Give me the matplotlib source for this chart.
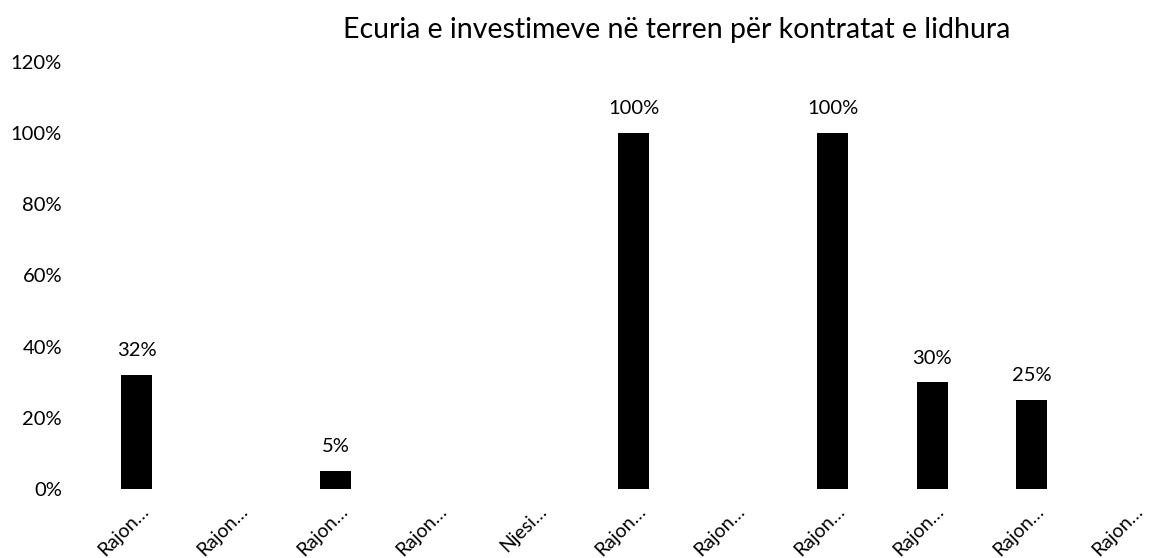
import matplotlib
matplotlib.use("Agg")
import matplotlib.pyplot as plt
from matplotlib.ticker import FuncFormatter
import matplotlib.transforms as mtransforms

categories = ["Rajon…", "Rajon…", "Rajon…", "Rajon…", "Njesi…", "Rajon…",
              "Rajon…", "Rajon…", "Rajon…", "Rajon…", "Rajon…"]
values = [0.32, 0.0, 0.05, 0.0, 0.0, 1.00, 0.0, 1.00, 0.30, 0.25, 0.0]
title = "Ecuria e investimeve në terren për kontratat e lidhura"

plt.rcParams['font.family'] = ['Lato', 'DejaVu Sans']

W, H = 1156, 558
fig = plt.figure(figsize=(W / 100, H / 100), dpi=100)
ax = fig.add_axes([87 / W, (H - 489) / H, (W - 87) / W, (489 - 62) / H])

x = list(range(len(categories)))
bars = ax.bar(x, values, width=0.31, color='black')

for xi, v in zip(x, values):
    if v > 0:
        ax.annotate(f"{v*100:.0f}%", (xi, v), xytext=(0, 13.5), textcoords='offset points',
                    ha='center', va='baseline', fontsize=14.5, color='black')

ax.set_xlim(-0.5, 10 + (W - 1131) / 99.4)
ax.set_ylim(0, 1.2)
ax.set_yticks([0, 0.2, 0.4, 0.6, 0.8, 1.0, 1.2])
ax.yaxis.set_major_formatter(FuncFormatter(lambda v, p: f"{v*100:.0f}%"))
ax.tick_params(axis='y', length=0, pad=18, labelsize=14.5)
ax.set_xticks(x)
ax.set_xticklabels([])
ax.tick_params(axis='x', length=0)

trans = mtransforms.blended_transform_factory(ax.transData, ax.transAxes)
offset = mtransforms.ScaledTranslation(9 / 100, -19 / 100, fig.dpi_scale_trans)
for xi, lab in zip(x, categories):
    ax.text(xi, 0, lab, transform=trans + offset, rotation=45, ha='right', va='center',
            rotation_mode='anchor', fontsize=14, color='black', clip_on=False)

for s in ax.spines.values():
    s.set_visible(False)

fig.text(677 / W, 1 - 30 / H, title, ha='center', va='center', fontsize=20.5, color='black')

fig.savefig("out.png", dpi=100, facecolor='white')
